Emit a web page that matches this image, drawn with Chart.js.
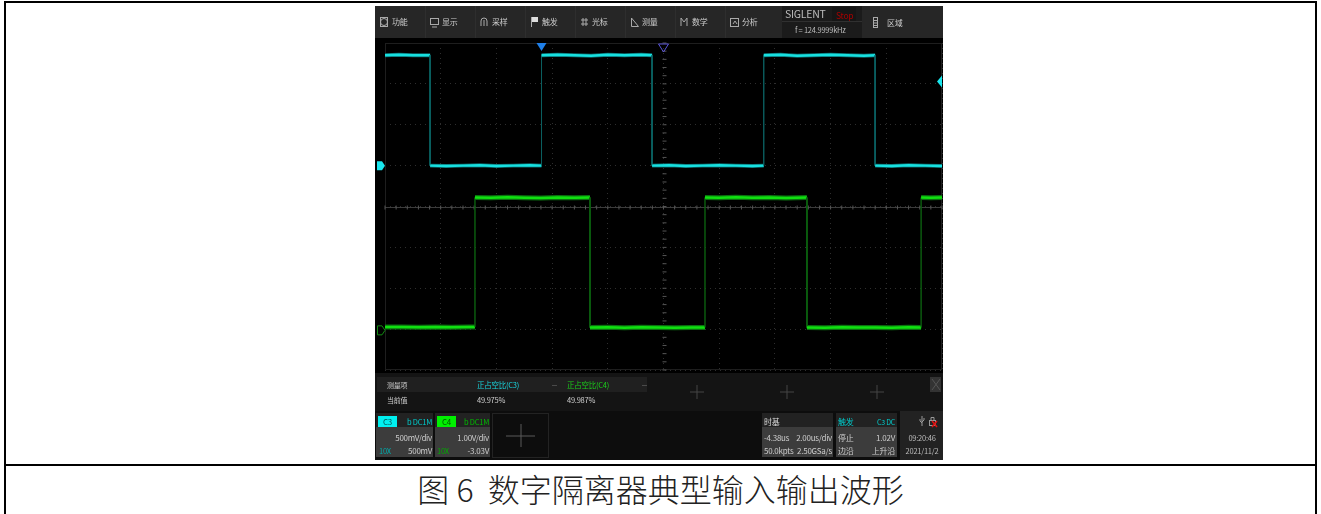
<!DOCTYPE html>
<html>
<head>
<meta charset="utf-8">
<style>
html,body{margin:0;padding:0;background:#fff;width:1321px;height:514px;overflow:hidden;font-family:"Noto Sans CJK SC",sans-serif;}
.abs{position:absolute;white-space:nowrap;line-height:1;letter-spacing:-0.25px;}
.line{position:absolute;background:#000;}
.box{position:absolute;}
#scope{position:absolute;left:375px;top:6px;width:568px;height:454px;background:#000;overflow:hidden;filter:blur(0.35px);}
#chartBox{position:absolute;left:0;top:31px;width:568px;height:335px;}
#icons{position:absolute;left:0;top:0;}
#caption{position:absolute;left:0;width:1321px;top:469px;text-align:center;font-size:32px;font-weight:300;line-height:38px;color:#222;}
</style>
</head>
<body>
<div class="line" style="left:4px;top:1px;width:1313px;height:2px"></div>
<div class="line" style="left:4px;top:464px;width:1313px;height:2px"></div>
<div class="line" style="left:4px;top:1px;width:2px;height:513px"></div>
<div class="line" style="left:1315px;top:1px;width:2px;height:513px"></div>
<div id="scope">
  <div id="boxes"></div>
  <div id="chartBox"><canvas id="scopeChart"></canvas></div>
  <svg id="icons" width="568" height="454" viewBox="375 6 568 454" fill="none" stroke="#aaa" stroke-width="1">
    <circle cx="384" cy="22" r="3.5"/><rect x="380.500" y="17.500" width="7" height="9"/>
    <rect x="430.500" y="18.500" width="8" height="6"/><path d="M432 27h5"/>
    <path d="M481 26v-5q0-3 3-3t3 3v5M484 20v6"/>
    <path d="M531.500 27v-10" /><path d="M532 17h6v5h-6z" fill="#ddd" stroke="none"/>
    <path d="M583 18v8M586 18v8M581 20h7M581 24h7"/>
    <path d="M631.500 18v8.500h7z"/>
    <path d="M681 26v-8l3 4 3-4v8"/>
    <rect x="730.500" y="18.500" width="8" height="8"/><path d="M733 24l2-3 2 3"/>
    <rect x="873.500" y="17.500" width="4" height="10"/><path d="M874 20.500h3M874 23h3M874 25.500h3"/>
    <g stroke="#444"><path d="M690 392h14M697 385v14M780 392h14M787 385v14M870 392h14M877 385v14"/></g>
    <path d="M932 379l8 11M940 379l-8 11" stroke="#555"/>
    <rect x="492.500" y="413.500" width="56" height="44" stroke="#3a3a3a" stroke-dasharray="1 1"/>
    <path d="M506 436h29M521 424v23" stroke="#5a5a5a"/>
    <path d="M552 385.500h5M642 385.500h5" stroke="#4a4a4a"/>
    <path d="M922 416v10M920 419v2l2 2M924 418v2l-2 2" stroke="#999"/>
    <rect x="929.500" y="420.500" width="6" height="5" stroke="#999"/><path d="M931 420v-2.500h3v2.500" stroke="#999"/>
    <path d="M932 421l5 6M937 421l-5 6" stroke="#e01010" stroke-width="1.500"/>
  </svg>
  <div id="labels"></div>
</div>
<div id="caption">图 6&nbsp; 数字隔离器典型输入输出波形</div>
<script src="https://cdn.jsdelivr.net/npm/chart.js@4"></script>
<script>
// C3 input, C4 output: time in us from the screen centre, volts
var c3Time = [-10, -9.5, -9, -8.38, -8.38, -7.8, -7.2, -6.6, -6, -5.4, -4.8, -4.38, -4.38, -3.8, -3.2, -2.6, -2, -1.4, -0.8, -0.41, -0.41, 0.2, 0.8, 1.4, 2, 2.6, 3.2, 3.6, 3.6, 4.2, 4.8, 5.4, 6, 6.6, 7.2, 7.6, 7.6, 8.2, 8.8, 9.4, 10];
var c3Volt = [1.35, 1.355, 1.35, 1.35, 0, -0.005, 0, 0.005, -0.005, 0, 0.005, 0, 1.35, 1.355, 1.35, 1.345, 1.355, 1.35, 1.355, 1.35, 0, 0.005, -0.005, 0, 0.005, 0, -0.005, 0, 1.35, 1.355, 1.345, 1.35, 1.355, 1.35, 1.345, 1.35, 0, -0.005, 0.005, 0, -0.005];
var c4Time = [-10, -9.4, -8.8, -8.2, -7.6, -7, -6.77, -6.77, -6.2, -5.6, -5, -4.4, -3.8, -3.2, -2.64, -2.64, -2, -1.4, -0.8, -0.2, 0.4, 1, 1.49, 1.49, 2, 2.6, 3.2, 3.8, 4.4, 5.15, 5.15, 5.8, 6.4, 7, 7.6, 8.2, 8.8, 9.25, 9.25, 9.6, 10];
var c4Volt = [0.08, 0.085, 0.075, 0.08, 0.075, 0.085, 0.08, 3.25, 3.245, 3.255, 3.245, 3.24, 3.25, 3.245, 3.25, 0.07, 0.075, 0.065, 0.075, 0.07, 0.065, 0.07, 0.07, 3.25, 3.245, 3.255, 3.245, 3.25, 3.24, 3.25, 0.07, 0.065, 0.075, 0.07, 0.07, 0.065, 0.075, 0.07, 3.25, 3.245, 3.25];
var xTicks = [-10, -8, -6, -4, -2, 0, 2, 4, 6, 8, 10];
var triggerTime = -4.38;
var triggerLevel = 1.03;
var c3Offset = 0;
var c4Offset = 0;

// panels behind the text, [left, top, width, height, colour]
var boxes = [
    [375, 6, 568, 32, '#262626'], [425, 6, 1, 32, '#2e2e2e'], [475, 6, 1, 32, '#2e2e2e'], [525, 6, 1, 32, '#2e2e2e'],
    [575, 6, 1, 32, '#2e2e2e'], [625, 6, 1, 32, '#2e2e2e'], [675, 6, 1, 32, '#2e2e2e'], [725, 6, 1, 32, '#2e2e2e'],
    [782, 6, 80, 32, '#1b1b1b'], [782, 21, 80, 1, '#303030'], [832, 7, 24, 14, '#161616'],
    [375, 373, 568, 38, '#141414'], [377, 377, 270, 15, '#202020'], [930, 377, 11, 15, '#333'],
    [375, 411, 568, 49, '#0d0d0d'],
    [376, 413, 57, 14, '#222'], [376, 427, 57, 30, '#3c3c3c'], [378, 416, 19, 11, '#00f0f0'],
    [435, 413, 55, 14, '#222'], [435, 427, 55, 30, '#3c3c3c'], [437, 416, 19, 11, '#00f000'],
    [762, 413, 71, 14, '#222'], [762, 427, 71, 30, '#3c3c3c'],
    [836, 413, 61, 14, '#222'], [836, 427, 61, 30, '#3c3c3c'],
    [900, 411, 43, 49, '#222']
];

// screen text, [text, x, centre y, colour, size, anchor]
var screenText = [
    ['功能', 392, 22, '#ccc', 8], ['显示', 442, 22, '#ccc', 8], ['采样', 492, 22, '#ccc', 8], ['触发', 542, 22, '#ccc', 8],
    ['光标', 592, 22, '#ccc', 8], ['测量', 642, 22, '#ccc', 8], ['数学', 692, 22, '#ccc', 8], ['分析', 742, 22, '#ccc', 8],
    ['区域', 887, 23, '#ccc', 8],
    ['SIGLENT', 785, 14, '#bbb', 10.5], ['Stop', 836, 15, '#a80000', 8.5], ['f = 124.9999kHz', 795, 30, '#bbb', 7.5],
    ['测量项', 387, 385, '#ccc', 7], ['当前值', 387, 400, '#ccc', 7],
    ['正占空比(C3)', 477, 385, '#19d8e0', 7.5], ['正占空比(C4)', 567, 385, '#1bd01b', 7.5],
    ['49.975%', 477, 400, '#ccc', 7.5], ['49.987%', 567, 400, '#ccc', 7.5],
    ['C3', 383, 422, '#055', 8], ['b DC1M', 432, 422, '#0cc', 7.5, 'right'],
    ['500mV/div', 432, 438, '#ccc', 8, 'right'], ['10X', 379, 451, '#0aa', 7.5], ['500mV', 432, 451, '#ccc', 8, 'right'],
    ['C4', 442, 422, '#050', 8], ['b DC1M', 489, 422, '#0b0', 7.5, 'right'],
    ['1.00V/div', 489, 438, '#ccc', 8, 'right'], ['10X', 437, 451, '#0a0', 7.5], ['-3.03V', 489, 451, '#ccc', 8, 'right'],
    ['时基', 764, 422, '#ddd', 8], ['-4.38us', 764, 438, '#ccc', 8], ['2.00us/div', 832, 438, '#ccc', 8, 'right'],
    ['50.0kpts', 764, 451, '#ccc', 8], ['2.50GSa/s', 832, 451, '#ccc', 8, 'right'],
    ['触发', 838, 422, '#0cc', 8], ['C3 DC', 895, 422, '#0cc', 7, 'right'],
    ['停止', 838, 438, '#ccc', 8], ['1.02V', 895, 438, '#ccc', 8, 'right'],
    ['边沿', 838, 451, '#ccc', 8], ['上升沿', 895, 451, '#ccc', 8, 'right'],
    ['09:20:46', 922, 438, '#bbb', 7.5, 'center'], ['2021/11/2', 922, 451, '#bbb', 7.5, 'center']
];

function points(xs, ys) {
    return xs.map(function (x, i) { return { x: x, y: ys[i] }; });
}

// edges are thin and dim, the flat parts are thick
function edgeStyle(dim, bright, width) {
    return {
        borderColor: function (ctx) { return ctx.p0.parsed.x === ctx.p1.parsed.x ? dim : bright; },
        borderWidth: function (ctx) { return ctx.p0.parsed.x === ctx.p1.parsed.x ? 1 : width; }
    };
}

function triangle(c, pts, fill, stroke) {
    c.beginPath();
    c.moveTo(pts[0], pts[1]);
    for (var i = 2; i < pts.length; i += 2) c.lineTo(pts[i], pts[i + 1]);
    c.closePath();
    if (fill) { c.fillStyle = fill; c.fill(); }
    if (stroke) { c.strokeStyle = stroke; c.lineWidth = 1; c.stroke(); }
}

var overlay = {
    id: 'overlay',
    beforeDatasetsDraw: function (chart) {
        var c = chart.ctx, a = chart.chartArea, sx = chart.scales.x, s3 = chart.scales.y;
        var cx = Math.round(sx.getPixelForValue(0)) + 0.5, cy = Math.round(s3.getPixelForValue(-0.5)) + 0.5;
        c.save();
        c.strokeStyle = '#1e1e1e';
        c.lineWidth = 1;
        c.strokeRect(a.left + 0.5, a.top + 0.5, a.right - a.left - 1, a.bottom - a.top - 1);
        // centre cross with sub division ticks
        c.strokeStyle = '#3c3c3c';
        c.beginPath();
        c.moveTo(a.left, cy); c.lineTo(a.right, cy);
        c.stroke();
        c.strokeStyle = '#555';
        c.beginPath();
        var dx = (a.right - a.left) / 50, dy = (a.bottom - a.top) / 40;
        for (var i = 0; i <= 50; i++) { c.moveTo(a.left + i * dx, cy - 2); c.lineTo(a.left + i * dx, cy + 2); }
        for (var j = 0; j <= 40; j++) { c.moveTo(cx - 2, a.top + j * dy); c.lineTo(cx + 2, a.top + j * dy); }
        c.stroke();
        c.restore();
    },
    afterDraw: function (chart) {
        var c = chart.ctx, a = chart.chartArea, sx = chart.scales.x, s3 = chart.scales.y, s4 = chart.scales.y4;
        var cx = sx.getPixelForValue(0);
        c.save();
        var tx = sx.getPixelForValue(triggerTime);
        triangle(c, [tx - 5, a.top, tx + 5, a.top, tx, a.top + 8], '#1f7fe8');
        triangle(c, [cx - 5, a.top + 1, cx + 5, a.top + 1, cx, a.top + 9], null, '#5a55d8');
        var ty = s3.getPixelForValue(triggerLevel);
        triangle(c, [a.right, ty - 6, a.right, ty + 6, a.right - 5, ty], '#19e6ee');
        var oy = s3.getPixelForValue(c3Offset);
        triangle(c, [a.left - 8, oy - 4.5, a.left - 3, oy - 4.5, a.left, oy, a.left - 3, oy + 4.5, a.left - 8, oy + 4.5], '#19e6ee');
        var gy = s4.getPixelForValue(c4Offset);
        triangle(c, [a.left - 7.5, gy - 4.5, a.left - 3, gy - 4.5, a.left, gy, a.left - 3, gy + 4.5, a.left - 7.5, gy + 4.5], null, '#128a12');
        c.restore();
    }
};

new Chart(document.getElementById('scopeChart'), {
    type: 'scatter',
    data: {
        datasets: [
            { label: 'C3', data: points(c3Time, c3Volt), yAxisID: 'y', showLine: true, pointRadius: 0,
              borderColor: '#17e0e0', borderCapStyle: 'butt', segment: edgeStyle('#0b5f60', '#17e0e0', 2.5) },
            { label: 'C4', data: points(c4Time, c4Volt), yAxisID: 'y4', showLine: true, pointRadius: 0,
              borderColor: '#10e010', borderCapStyle: 'butt', segment: edgeStyle('#0c5c10', '#10e010', 2.5) },
            { label: 'C3 fuzz', data: points(c3Time, c3Volt), yAxisID: 'y', showLine: true, pointRadius: 0,
              borderColor: '#0a6a6c', borderCapStyle: 'butt', segment: edgeStyle('#0b5f60', '#0a6a6c', 4) },
            { label: 'C4 fuzz', data: points(c4Time, c4Volt), yAxisID: 'y4', showLine: true, pointRadius: 0,
              borderColor: '#0b7010', borderCapStyle: 'butt', segment: edgeStyle('#0c5c10', '#0b7010', 5) }
        ]
    },
    plugins: [overlay],
    options: {
        responsive: true,
        maintainAspectRatio: false,
        animation: false,
        layout: { padding: { left: 10, right: 1, top: 6, bottom: 2 } },
        plugins: { legend: { display: false }, tooltip: { enabled: false } },
        scales: {
            x: {
                type: 'linear', min: -10, max: 10,
                afterBuildTicks: function (ax) { ax.ticks = xTicks.map(function (v) { return { value: v }; }); },
                grid: { color: '#2e2e2e', drawTicks: false },
                border: { display: false, dash: [1, 4] },
                ticks: { display: false }
            },
            y: {
                min: -2.5, max: 1.5,
                ticks: { display: false, stepSize: 0.5 },
                grid: { color: '#2e2e2e', drawTicks: false },
                border: { display: false, dash: [1, 4] }
            },
            y4: { min: -0.97, max: 7.03, display: false }
        }
    }
});

var boxLayer = document.getElementById('boxes');
boxes.forEach(function (b) {
    var d = document.createElement('div');
    d.className = 'box';
    d.style.cssText = 'left:' + (b[0] - 375) + 'px;top:' + (b[1] - 6) + 'px;width:' + b[2] + 'px;height:' + b[3] + 'px;background:' + b[4];
    boxLayer.appendChild(d);
});

var labelBox = document.getElementById('labels');
screenText.forEach(function (t) {
    var d = document.createElement('div');
    var shift = t[5] === 'right' ? 'translateX(-100%)' : t[5] === 'center' ? 'translateX(-50%)' : 'none';
    d.className = 'abs';
    d.textContent = t[0];
    d.style.cssText = 'left:' + (t[1] - 375) + 'px;top:' + (t[2] - 6 - t[4] / 2) + 'px;color:' + t[3] + ';font-size:' + t[4] + 'px;transform:' + shift;
    labelBox.appendChild(d);
});
</script>
</body>
</html>
